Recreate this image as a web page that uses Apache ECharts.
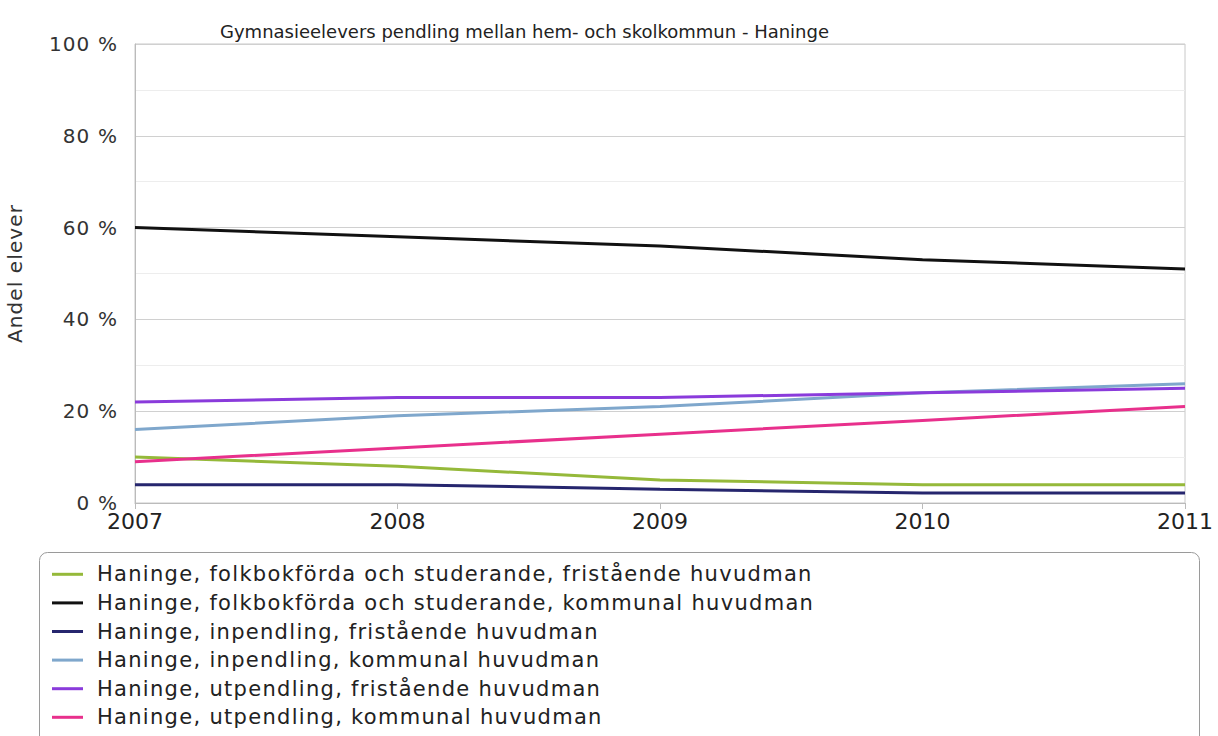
<!DOCTYPE html>
<html>
<head>
<meta charset="utf-8">
<script src="https://cdn.jsdelivr.net/npm/echarts@6/dist/echarts.min.js"></script>
<style>
html,body{margin:0;padding:0;background:#fff;}
#chart{width:1218px;height:736px;}
#chart text[style*="21px"]{letter-spacing:1.3px;}
#chart text[style*="20px"]{letter-spacing:1.1px;}
</style>
</head>
<body>
<div id="chart"></div>
<script>
var titleText = 'Gymnasieelevers pendling mellan hem- och skolkommun - Haninge';
var yAxisName = 'Andel elever';
var years = ['2007', '2008', '2009', '2010', '2011'];
var seriesNames = [
  'Haninge, folkbokförda och studerande, fristående huvudman',
  'Haninge, folkbokförda och studerande, kommunal huvudman',
  'Haninge, inpendling, fristående huvudman',
  'Haninge, inpendling, kommunal huvudman',
  'Haninge, utpendling, fristående huvudman',
  'Haninge, utpendling, kommunal huvudman'
];
var folkFristaende = [10, 8, 5, 4, 4];
var folkKommunal = [60, 58, 56, 53, 51];
var inFristaende = [4, 4, 3, 2.2, 2.2];
var inKommunal = [16, 19, 21, 24, 26];
var utFristaende = [22, 23, 23, 24, 25];
var utKommunal = [9, 12, 15, 18, 21];
var seriesColors = ['#95b93a', '#111111', '#26266e', '#7fa7cc', '#8a3bdb', '#e8308c'];

var allData = [folkFristaende, folkKommunal, inFristaende, inKommunal, utFristaende, utKommunal];
var font = 'DejaVu Sans';

var chart = echarts.init(document.getElementById('chart'), null, {renderer: 'svg'});
chart.setOption({
  animation: false,
  backgroundColor: '#fff',
  title: {
    text: titleText,
    left: 215,
    top: 17,
    textStyle: {fontFamily: font, fontSize: 18, fontWeight: 'normal', color: '#222'}
  },
  grid: {
    left: 135, right: 33, top: 44, bottom: 233,
    containLabel: false,
    outerBoundsMode: 'none',
    show: true, borderColor: '#c8c8c8', borderWidth: 1, backgroundColor: 'transparent'
  },
  xAxis: {
    type: 'category',
    data: years,
    boundaryGap: false,
    axisLine: {show: true, lineStyle: {color: '#bbbbbb', width: 1}},
    axisTick: {show: true, length: 6, lineStyle: {color: '#bbbbbb'}},
    axisLabel: {fontFamily: font, fontSize: 22, color: '#222', margin: 7},
    splitLine: {show: false}
  },
  yAxis: {
    type: 'value',
    min: 0, max: 100, interval: 20,
    name: yAxisName,
    nameLocation: 'middle',
    nameRotate: 90,
    nameGap: 110,
    nameTextStyle: {fontFamily: font, fontSize: 20, color: '#333'},
    axisLine: {show: true, lineStyle: {color: '#bbbbbb'}},
    axisTick: {show: false},
    axisLabel: {fontFamily: font, fontSize: 20, color: '#333', margin: 17,
      formatter: function (v) { return v + ' %'; }},
    splitLine: {show: true, lineStyle: {color: '#d0d0d0', width: 1}},
    minorTick: {show: false, splitNumber: 2},
    minorSplitLine: {show: true, lineStyle: {color: '#ededed', width: 1}}
  },
  legend: {
    orient: 'vertical',
    left: 52,
    top: 560,
    padding: 0,
    itemGap: 0,
    itemWidth: 31,
    itemHeight: 3,
    icon: 'rect',
    textStyle: {fontFamily: font, fontSize: 21, color: '#222', lineHeight: 28.6, padding: [0, 0, 0, 9]},
    data: seriesNames
  },
  graphic: [{
    type: 'rect',
    left: 37, top: 550,
    shape: {width: 1160, height: 220, r: 8},
    style: {fill: 'none', stroke: '#9a9a9a', lineWidth: 1},
    silent: true, z: -1
  }],
  series: seriesNames.map(function (n, i) {
    return {
      name: n,
      type: 'line',
      data: allData[i],
      symbol: 'none',
      smooth: false,
      color: seriesColors[i],
      lineStyle: {width: 3, color: seriesColors[i]}
    };
  })
});
</script>
</body>
</html>
